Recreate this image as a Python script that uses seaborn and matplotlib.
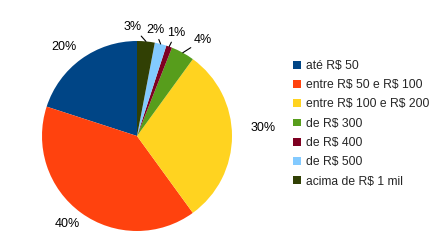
import numpy as np
import matplotlib
matplotlib.use("Agg")
import matplotlib.pyplot as plt
import seaborn as sns
from matplotlib.patches import Patch

categories = ['até R$ 50', 'entre R$ 50 e R$ 100', 'entre R$ 100 e R$ 200',
              'de R$ 300', 'de R$ 400', 'de R$ 500', 'acima de R$ 1 mil']
values = [20, 40, 30, 4, 1, 2, 3]
pct_labels = ['20%', '40%', '30%', '4%', '1%', '2%', '3%']
colors = ['#004586', '#ff420e', '#ffd320', '#579d1c', '#7e0021', '#83caff', '#314004']

# label layout: angular offset (deg) from wedge middle, radial distance
label_dang = [3.3, -2.5, 3.6, -5.7, -0.9, 4.7, 7.5]
label_dist = [1.21, 1.18, 1.33, 1.23, 1.16, 1.13, 1.15]
leader = [False, False, False, True, True, True, True]

sns.set_style("white")
plt.rcParams['font.family'] = ['Liberation Sans', 'DejaVu Sans']
plt.rcParams['text.parse_math'] = False

fig = plt.figure(figsize=(4.44, 2.5), dpi=100)
ax = fig.add_axes([42 / 444, 19 / 250, 190 / 444, 190 / 250])

wedges, _ = ax.pie(values, colors=colors, startangle=90, counterclock=True,
                   wedgeprops=dict(linewidth=0, edgecolor='none'))
ax.set_xlim(-1, 1)
ax.set_ylim(-1, 1)
ax.set_aspect('equal')
ax.axis('off')

for w, lab, da, d, ld in zip(wedges, pct_labels, label_dang, label_dist, leader):
    mid = np.deg2rad((w.theta1 + w.theta2) / 2)
    ang = mid + np.deg2rad(da)
    tx, ty = d * np.cos(ang), d * np.sin(ang)
    if ld:
        ex, ey = np.cos(mid), np.sin(mid)
        ax.annotate(lab, xy=(ex, ey), xytext=(tx, ty), ha='center', va='center',
                    fontsize=9, color='#000000', annotation_clip=False,
                    arrowprops=dict(arrowstyle='-', color='black', lw=0.8,
                                    shrinkA=0, shrinkB=0))
    else:
        ax.text(tx, ty, lab, ha='center', va='center', fontsize=9, color='#000000',
                clip_on=False)

handles = [Patch(facecolor=c, edgecolor='none') for c in colors]
fig.legend(handles, categories, loc='upper left', bbox_to_anchor=(293 / 444, 1 - 60 / 250),
           frameon=False, fontsize=8.7, handlelength=0.64, handleheight=0.64,
           handletextpad=0.45, labelspacing=0.6, borderpad=0, borderaxespad=0)

fig.savefig('out.png', dpi=100)
